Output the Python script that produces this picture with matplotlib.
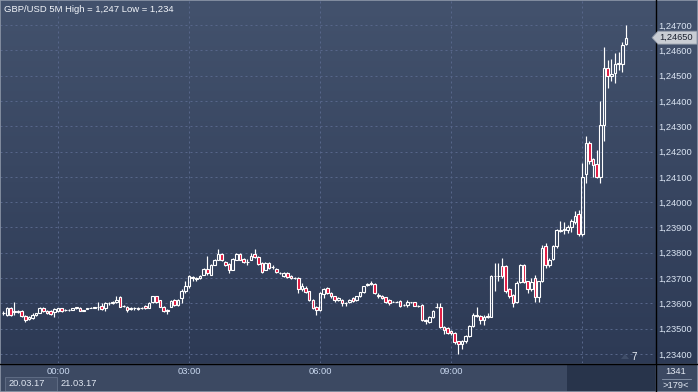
import numpy as np
import matplotlib
matplotlib.use("Agg")
import matplotlib.pyplot as plt
from matplotlib.patches import Rectangle, Polygon
from matplotlib.colors import LinearSegmentedColormap

# ---------------- data (5-minute candles, index 0 = 21.03.17 00:00) ----------------
bar_index = list(range(-15, 157))
opens = [
    1.23560, 1.23553, 1.23582, 1.23567, 1.23569, 1.23569, 1.23549, 1.23537, 1.23540, 1.23553,
    1.23563, 1.23580, 1.23569, 1.23571, 1.23567,
    1.23569, 1.23580, 1.23572, 1.23573, 1.23575, 1.23580, 1.23582, 1.23570, 1.23578, 1.23581,
    1.23582, 1.23584, 1.23589, 1.23582, 1.23600, 1.23602, 1.23604, 1.23623, 1.23589, 1.23587,
    1.23578, 1.23580, 1.23582, 1.23580, 1.23589, 1.23582, 1.23605, 1.23627, 1.23613, 1.23587,
    1.23573, 1.23587, 1.23613, 1.23593, 1.23620, 1.23647, 1.23667, 1.23702, 1.23695, 1.23700,
    1.23713, 1.23736, 1.23713, 1.23753, 1.23773, 1.23796, 1.23764, 1.23757, 1.23733, 1.23773,
    1.23793, 1.23776, 1.23764, 1.23773, 1.23793, 1.23783, 1.23760, 1.23733, 1.23760, 1.23743,
    1.23736, 1.23720, 1.23707, 1.23720, 1.23709, 1.23700, 1.23700, 1.23656, 1.23660, 1.23647,
    1.23613, 1.23584, 1.23573, 1.23637, 1.23660, 1.23640, 1.23627, 1.23613, 1.23613, 1.23603,
    1.23607, 1.23620, 1.23613, 1.23629, 1.23643, 1.23673, 1.23676, 1.23676, 1.23632, 1.23629,
    1.23623, 1.23613, 1.23607, 1.23607, 1.23609, 1.23593, 1.23593, 1.23604, 1.23604, 1.23589,
    1.23593, 1.23533, 1.23527, 1.23544, 1.23587, 1.23587, 1.23507, 1.23504, 1.23491, 1.23483,
    1.23449, 1.23440, 1.23451, 1.23469, 1.23509, 1.23549, 1.23549, 1.23533, 1.23544, 1.23547,
    1.23707, 1.23707, 1.23747, 1.23747, 1.23656, 1.23633, 1.23607, 1.23683, 1.23753, 1.23687,
    1.23656, 1.23700, 1.23623, 1.23687, 1.23828, 1.23753, 1.23776, 1.23825, 1.23884, 1.23888,
    1.23891, 1.23901, 1.23921, 1.23953, 1.23874, 1.24112, 1.24233, 1.24170, 1.24151, 1.24099,
    1.24303, 1.24532, 1.24499, 1.24509, 1.24545, 1.24545, 1.24624,
]
highs = [
    1.23570, 1.23587, 1.23585, 1.23607, 1.23573, 1.23572, 1.23552, 1.23550, 1.23560, 1.23563,
    1.23587, 1.23587, 1.23573, 1.23575, 1.23580,
    1.23583, 1.23583, 1.23578, 1.23578, 1.23583, 1.23587, 1.23585, 1.23573, 1.23581, 1.23584,
    1.23587, 1.23607, 1.23600, 1.23607, 1.23605, 1.23610, 1.23627, 1.23627, 1.23592, 1.23590,
    1.23584, 1.23584, 1.23585, 1.23587, 1.23592, 1.23605, 1.23630, 1.23630, 1.23615, 1.23590,
    1.23576, 1.23615, 1.23616, 1.23616, 1.23655, 1.23687, 1.23710, 1.23707, 1.23705, 1.23713,
    1.23740, 1.23787, 1.23756, 1.23776, 1.23813, 1.23800, 1.23768, 1.23760, 1.23780, 1.23800,
    1.23797, 1.23779, 1.23776, 1.23797, 1.23813, 1.23786, 1.23763, 1.23763, 1.23765, 1.23750,
    1.23740, 1.23725, 1.23724, 1.23724, 1.23712, 1.23705, 1.23704, 1.23680, 1.23670, 1.23650,
    1.23616, 1.23590, 1.23643, 1.23660, 1.23663, 1.23643, 1.23630, 1.23623, 1.23616, 1.23606,
    1.23616, 1.23623, 1.23630, 1.23646, 1.23670, 1.23680, 1.23690, 1.23680, 1.23640, 1.23633,
    1.23626, 1.23616, 1.23610, 1.23610, 1.23612, 1.23596, 1.23612, 1.23607, 1.23607, 1.23593,
    1.23596, 1.23536, 1.23550, 1.23574, 1.23600, 1.23600, 1.23510, 1.23507, 1.23495, 1.23486,
    1.23452, 1.23454, 1.23473, 1.23513, 1.23560, 1.23587, 1.23553, 1.23553, 1.23560, 1.23710,
    1.23760, 1.23760, 1.23780, 1.23750, 1.23660, 1.23636, 1.23687, 1.23756, 1.23756, 1.23690,
    1.23700, 1.23713, 1.23690, 1.23830, 1.23840, 1.23780, 1.23830, 1.23892, 1.23925, 1.23920,
    1.23908, 1.23933, 1.23965, 1.23970, 1.24154, 1.24262, 1.24240, 1.24175, 1.24205, 1.24400,
    1.24612, 1.24562, 1.24565, 1.24588, 1.24592, 1.24632, 1.24700,
]
lows = [
    1.23553, 1.23549, 1.23549, 1.23553, 1.23563, 1.23545, 1.23527, 1.23533, 1.23536, 1.23550,
    1.23560, 1.23565, 1.23558, 1.23553, 1.23544,
    1.23565, 1.23566, 1.23569, 1.23569, 1.23575, 1.23578, 1.23568, 1.23568, 1.23578, 1.23580,
    1.23580, 1.23573, 1.23573, 1.23569, 1.23595, 1.23598, 1.23600, 1.23585, 1.23585, 1.23567,
    1.23575, 1.23575, 1.23575, 1.23578, 1.23578, 1.23580, 1.23603, 1.23603, 1.23585, 1.23567,
    1.23557, 1.23585, 1.23590, 1.23590, 1.23600, 1.23640, 1.23660, 1.23687, 1.23690, 1.23697,
    1.23710, 1.23713, 1.23710, 1.23750, 1.23770, 1.23768, 1.23748, 1.23720, 1.23730, 1.23770,
    1.23770, 1.23760, 1.23753, 1.23770, 1.23780, 1.23753, 1.23720, 1.23730, 1.23736, 1.23736,
    1.23720, 1.23715, 1.23704, 1.23700, 1.23696, 1.23696, 1.23640, 1.23650, 1.23640, 1.23610,
    1.23578, 1.23553, 1.23570, 1.23620, 1.23636, 1.23620, 1.23607, 1.23610, 1.23589, 1.23590,
    1.23600, 1.23607, 1.23610, 1.23626, 1.23640, 1.23670, 1.23672, 1.23636, 1.23620, 1.23616,
    1.23603, 1.23593, 1.23604, 1.23604, 1.23586, 1.23589, 1.23585, 1.23600, 1.23589, 1.23585,
    1.23530, 1.23520, 1.23524, 1.23540, 1.23580, 1.23504, 1.23480, 1.23480, 1.23475, 1.23440,
    1.23400, 1.23420, 1.23445, 1.23465, 1.23505, 1.23545, 1.23520, 1.23515, 1.23540, 1.23544,
    1.23647, 1.23687, 1.23700, 1.23640, 1.23620, 1.23587, 1.23600, 1.23680, 1.23680, 1.23640,
    1.23650, 1.23607, 1.23607, 1.23683, 1.23740, 1.23745, 1.23770, 1.23820, 1.23880, 1.23875,
    1.23878, 1.23880, 1.23915, 1.23868, 1.23868, 1.24075, 1.24150, 1.24099, 1.24095, 1.24075,
    1.24243, 1.24450, 1.24480, 1.24472, 1.24522, 1.24515, 1.24620,
]
closes = [
    1.23563, 1.23580, 1.23553, 1.23569, 1.23567, 1.23549, 1.23533, 1.23544, 1.23553, 1.23560,
    1.23580, 1.23569, 1.23562, 1.23557, 1.23576,
    1.23580, 1.23569, 1.23574, 1.23573, 1.23580, 1.23584, 1.23570, 1.23572, 1.23580, 1.23582,
    1.23584, 1.23587, 1.23576, 1.23602, 1.23602, 1.23607, 1.23613, 1.23587, 1.23589, 1.23573,
    1.23581, 1.23580, 1.23577, 1.23582, 1.23580, 1.23602, 1.23627, 1.23605, 1.23587, 1.23571,
    1.23571, 1.23611, 1.23593, 1.23613, 1.23647, 1.23667, 1.23707, 1.23700, 1.23700, 1.23707,
    1.23736, 1.23720, 1.23753, 1.23773, 1.23796, 1.23771, 1.23751, 1.23733, 1.23776, 1.23796,
    1.23773, 1.23764, 1.23764, 1.23787, 1.23783, 1.23756, 1.23723, 1.23760, 1.23740, 1.23743,
    1.23723, 1.23720, 1.23720, 1.23704, 1.23700, 1.23700, 1.23656, 1.23667, 1.23643, 1.23613,
    1.23580, 1.23573, 1.23640, 1.23656, 1.23640, 1.23627, 1.23613, 1.23620, 1.23603, 1.23603,
    1.23613, 1.23611, 1.23627, 1.23643, 1.23667, 1.23676, 1.23680, 1.23640, 1.23627, 1.23620,
    1.23607, 1.23603, 1.23607, 1.23607, 1.23589, 1.23593, 1.23607, 1.23604, 1.23591, 1.23589,
    1.23533, 1.23529, 1.23544, 1.23571, 1.23587, 1.23507, 1.23493, 1.23484, 1.23483, 1.23447,
    1.23440, 1.23451, 1.23469, 1.23509, 1.23553, 1.23553, 1.23533, 1.23547, 1.23549, 1.23707,
    1.23707, 1.23707, 1.23707, 1.23647, 1.23629, 1.23603, 1.23680, 1.23753, 1.23683, 1.23656,
    1.23683, 1.23623, 1.23687, 1.23820, 1.23753, 1.23773, 1.23825, 1.23888, 1.23891, 1.23893,
    1.23901, 1.23924, 1.23947, 1.23874, 1.24101, 1.24233, 1.24164, 1.24147, 1.24099, 1.24303,
    1.24532, 1.24499, 1.24505, 1.24545, 1.24549, 1.24621, 1.24650,
]
price_ticks = [1.234, 1.235, 1.236, 1.237, 1.238, 1.239, 1.240, 1.241,
               1.242, 1.243, 1.244, 1.245, 1.246, 1.247]
time_tick_bars = [0, 36, 72, 108, 144]
time_tick_labels = ["00:00", "03:00", "06:00", "09:00", "12:00"]
title_text = "GBP/USD 5M High = 1,247 Low = 1,234"
current_price = 1.24650
date_labels = ["20.03.17", "21.03.17"]
corner_top = "1341"
corner_bottom = ">179<"
bars_label = "7"

# ---------------- figure ----------------
W, H = 698, 392
fig = plt.figure(figsize=(W / 100, H / 100), dpi=100)
fig.patch.set_facecolor("#3c4962")
FONT = "Liberation Sans"

def fx(px):
    return px / W

def fy(py):
    return 1 - py / H

# background gradient over chart + right panel
bg = fig.add_axes([0, fy(363), 1, 363 / H])
bg.set_axis_off()
cmap = LinearSegmentedColormap.from_list("g", ["#2d3a55", "#43526d"])
grad = np.linspace(0, 1, 256).reshape(-1, 1)
bg.imshow(grad, aspect="auto", cmap=cmap, origin="lower", extent=[0, 1, 0, 1])
bg.set_xlim(0, 1)
bg.set_ylim(0, 1)

# main chart axes
chart_right = 655
chart_bottom = 363
ax = fig.add_axes([0, fy(chart_bottom), fx(chart_right), chart_bottom / H])
ax.set_facecolor("none")
x_left = -15.93
x_right = 164.0
ax.set_xlim(x_left, x_right)
ax.set_ylim(1.23364, 1.24799)
for s in ax.spines.values():
    s.set_visible(False)

grid_col = "#57668a"
ax.set_yticks(price_ticks)
ax.set_yticklabels([f"{v:.5f}".replace(".", ",") for v in price_ticks])
ax.yaxis.tick_right()
ax.tick_params(axis="y", length=0, pad=2.6, labelsize=6.7, labelcolor="#dbe5f3")
for lab in ax.get_yticklabels():
    lab.set_fontfamily(FONT)
ax.set_xticks(time_tick_bars)
ax.set_xticklabels(time_tick_labels)
ax.tick_params(axis="x", length=0, pad=3.2, labelsize=6.7, labelcolor="#c9d8ef")
for lab in ax.get_xticklabels():
    lab.set_fontfamily(FONT)
ax.get_xticklabels()[-1].set_color("#7d8ba6")
ax.grid(True, color=grid_col, linestyle=(0, (2, 3)), linewidth=0.72)
ax.set_axisbelow(True)

# candles
w = 0.72
up_face = "none"
down_face = "#e0143c"
for xi, o, h, l, c in zip(bar_index, opens, highs, lows, closes):
    top = max(o, c)
    bot = min(o, c)
    ax.vlines(xi, top, h, color="white", linewidth=0.85, zorder=3)
    ax.vlines(xi, l, bot, color="white", linewidth=0.85, zorder=3)
    face = up_face if c >= o else down_face
    ax.add_patch(Rectangle((xi - w / 2, bot), w, top - bot, facecolor=face,
                           edgecolor="white", linewidth=0.8, zorder=4))

# separators
fig.add_artist(plt.Line2D([fx(655.5), fx(655.5)], [0, 1], color="black", lw=1.0))
fig.add_artist(plt.Line2D([0, 1], [fy(363.5), fy(363.5)], color="black", lw=1.0))

# bottom band dark block behind 12:00
fig.add_artist(Rectangle((fx(567), 0), fx(655) - fx(567), fy(364), transform=fig.transFigure,
                         facecolor="#28344b", edgecolor="none", zorder=0.5))
# corner box
fig.add_artist(Rectangle((fx(656), 0), fx(698) - fx(656), fy(364), transform=fig.transFigure,
                         facecolor="#3c4962", edgecolor="none", zorder=0.6))

# title
fig.text(fx(4), fy(9), title_text, fontsize=6.8, family=FONT, color="#f2f5fa",
         ha="left", va="center")

# current price marker
py = 25 + (1.247 - current_price) / 0.001 * 25.3
poly = Polygon([(fx(652), fy(py)), (fx(658), fy(py - 6.5)), (fx(697), fy(py - 6.5)),
                (fx(697), fy(py + 6.5)), (fx(658), fy(py + 6.5))], closed=True,
               transform=fig.transFigure, facecolor="#c9cdd4", edgecolor="#8a93a3",
               linewidth=0.6, zorder=5)
fig.add_artist(poly)
fig.text(fx(659), fy(py), f"{current_price:.5f}".replace(".", ","), fontsize=6.7,
         family=FONT, color="#1c2230", ha="left", va="center", zorder=6)

# bars count label
fig.text(fx(631), fy(357), bars_label, fontsize=7, family=FONT, color="#eef2f8",
         ha="left", va="center")
fig.add_artist(Polygon([(fx(621), fy(359)), (fx(625), fy(354)), (fx(629), fy(359))],
                       closed=True, transform=fig.transFigure, facecolor="#3f4d68",
                       edgecolor="none"))

# corner info
fig.text(fx(676), fy(371), corner_top, fontsize=6.7, family=FONT, color="#e4eaf4",
         ha="center", va="center")
fig.add_artist(plt.Line2D([fx(662), fx(691)], [fy(379), fy(379)], color="#8c98ad", lw=0.6))
fig.text(fx(676), fy(385), corner_bottom, fontsize=6.7, family=FONT, color="#e4eaf4",
         ha="center", va="center")

# date boxes
fig.add_artist(Rectangle((fx(5), fy(391)), fx(57) - fx(5), (391 - 377) / H,
                         transform=fig.transFigure, facecolor="#45526b",
                         edgecolor="#5e6b83", linewidth=0.7))
fig.text(fx(9), fy(384), date_labels[0], fontsize=6.7, family=FONT, color="#dfe6f1",
         ha="left", va="center")
fig.text(fx(61), fy(384), date_labels[1], fontsize=6.7, family=FONT, color="#dfe6f1",
         ha="left", va="center")

# outer frame
fig.add_artist(Rectangle((0, 0), 1, 1, transform=fig.transFigure, facecolor="none",
                         edgecolor="#8d97a8", linewidth=1.2))

fig.savefig("out.png", dpi=100, facecolor=fig.get_facecolor())
